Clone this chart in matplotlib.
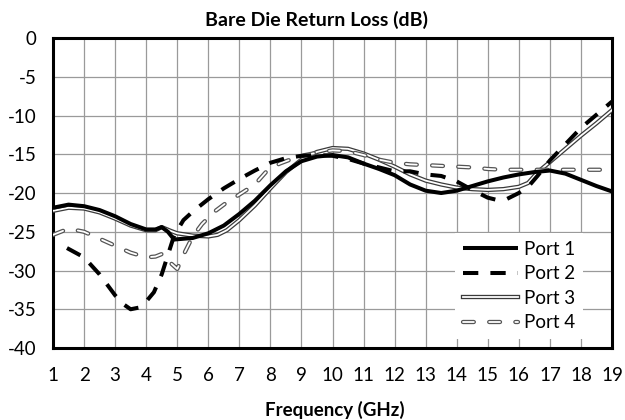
import matplotlib
matplotlib.use('Agg')
import matplotlib.pyplot as plt
import matplotlib.patheffects as pe

plt.rcParams['font.family'] = ['Lato', 'DejaVu Sans']
plt.rcParams['axes.unicode_minus'] = False

# values, (GHz, dB)
p1_f = [1.0, 1.5, 2.0, 2.5, 3.0, 3.5, 4.0, 4.3, 4.5, 4.7, 4.9, 5.5, 6.0, 6.5, 7.0, 7.5,
        8.0, 8.5, 9.0, 9.5, 10.0, 10.5, 11.0, 11.5, 12.0, 12.5, 13.0, 13.5, 14.0, 14.5,
        15.0, 15.5, 16.0, 16.5, 17.0, 17.5, 18.0, 18.5, 19.0]
p1_db = [-21.9, -21.5, -21.7, -22.2, -23.0, -24.0, -24.7, -24.7, -24.4, -25.0, -26.0,
         -25.8, -25.2, -24.2, -22.7, -21.0, -19.0, -17.2, -15.9, -15.3, -15.1, -15.4,
         -16.2, -16.9, -17.7, -18.9, -19.7, -20.0, -19.7, -19.1, -18.5, -18.0, -17.6,
         -17.3, -17.1, -17.5, -18.3, -19.1, -19.8]

p2_f = [1.45, 2.0, 2.5, 3.0, 3.25, 3.5, 3.75, 4.0, 4.25, 4.5, 4.7, 4.9, 5.2, 5.5, 6.0,
        6.5, 7.0, 7.5, 8.0, 8.5, 9.0, 9.5, 10.0, 10.5, 11.0, 11.5, 12.0, 12.5, 13.0,
        13.5, 14.0, 14.5, 15.0, 15.3, 15.6, 16.0, 16.3, 16.6, 17.0, 17.5, 18.0, 18.5, 19.0]
p2_db = [-27.1, -28.3, -30.5, -33.2, -34.3, -35.0, -34.8, -34.0, -32.8, -30.5, -28.0,
         -25.5, -23.5, -22.4, -20.8, -19.4, -18.2, -17.1, -16.1, -15.5, -15.2, -15.1,
         -15.2, -15.6, -16.2, -16.7, -17.2, -17.2, -17.6, -17.8, -18.5, -19.6, -20.6,
         -20.9, -20.8, -20.0, -19.2, -17.8, -15.8, -13.7, -11.6, -9.9, -8.2]

p3_f = [1.0, 1.5, 2.0, 2.5, 3.0, 3.5, 4.0, 4.3, 4.5, 4.8, 5.0, 5.5, 6.0, 6.3, 6.6, 7.0,
        7.5, 8.0, 8.5, 9.0, 9.5, 10.0, 10.5, 11.0, 11.5, 12.0, 12.5, 13.0, 13.5, 14.0,
        14.5, 15.0, 15.5, 16.0, 16.3, 16.5, 16.7, 17.0, 17.5, 18.0, 18.5, 19.0]
p3_db = [-22.3, -21.9, -22.0, -22.5, -23.3, -24.2, -24.8, -24.8, -24.4, -24.9, -25.2,
         -25.5, -25.6, -25.4, -24.8, -23.5, -21.6, -19.4, -17.3, -15.7, -14.7, -14.2,
         -14.3, -14.9, -15.7, -16.6, -17.6, -18.4, -18.9, -19.3, -19.5, -19.6, -19.5,
         -19.2, -18.7, -17.8, -17.0, -16.0, -14.3, -12.6, -11.0, -9.3]

p4_f = [1.0, 1.5, 2.0, 2.5, 3.0, 3.5, 4.0, 4.3, 4.55, 4.75, 5.0, 5.25, 5.5, 5.8, 6.2,
        6.6, 7.0, 7.5, 7.9, 8.3, 8.7, 9.0, 9.5, 10.0, 10.5, 11.0, 11.5, 12.0, 12.5,
        13.0, 13.5, 14.0, 14.5, 15.0, 15.5, 16.0, 17.0, 18.0, 19.0]
p4_db = [-25.4, -24.6, -25.0, -25.9, -26.8, -27.7, -28.3, -28.2, -27.8, -28.9, -29.8,
         -27.6, -25.6, -24.0, -22.4, -21.2, -20.2, -18.9, -17.1, -16.2, -15.6, -15.2,
         -14.8, -14.5, -14.6, -15.1, -15.7, -16.1, -16.3, -16.4, -16.5, -16.6, -16.7,
         -16.9, -17.0, -17.0, -17.0, -17.0, -17.0]

x_ticks = list(range(1, 20))
y_ticks = list(range(-40, 1, 5))

fig = plt.figure(figsize=(6.25, 4.2), dpi=100)
ax = fig.add_axes([0.0848, 0.1714, 0.8944, 0.7381])

ax.plot(p1_f, p1_db, color='black', lw=2.9, solid_capstyle='butt', label='Port 1', zorder=4)
ax.plot(p2_f, p2_db, color='black', lw=2.9, dashes=(3.8, 3.0), dash_capstyle='butt',
        label='Port 2', zorder=5)
ax.plot(p3_f, p3_db, color='white', lw=1.3, label='Port 3', zorder=3,
        path_effects=[pe.Stroke(linewidth=3.1, foreground='#3a3a3a'), pe.Normal()])
ax.plot(p4_f, p4_db, color='white', lw=1.3, dashes=(6.0, 8.5), dash_capstyle='round',
        label='Port 4', zorder=3,
        path_effects=[pe.Stroke(linewidth=3.1, foreground='#555555'), pe.Normal()])

ax.set_xlim(1, 19)
ax.set_ylim(-40, 0)
ax.set_xticks(x_ticks)
ax.set_yticks(y_ticks)
ax.grid(True, color='#9a9a9a', lw=0.9)
ax.set_axisbelow(True)
ax.tick_params(length=0, labelsize=13.5)
ax.tick_params(axis='x', pad=14)
ax.tick_params(axis='y', pad=12)
for s in ax.spines.values():
    s.set_linewidth(2.2)
    s.set_color('black')

fig.text(0.506, 0.952, 'Bare Die Return Loss (dB)', ha='center', va='center',
         fontsize=14, fontweight='bold')
fig.text(0.535, 0.024, 'Frequency (GHz)', ha='center', va='center',
         fontsize=13.5, fontweight='bold')

leg = ax.legend(loc='lower right', bbox_to_anchor=(0.964, 0.0), fontsize=13.5,
                handlelength=2.95, handletextpad=0.3, labelspacing=0.4,
                borderpad=0.4, fancybox=False, framealpha=1.0)
leg.get_frame().set_edgecolor('none')
leg.get_frame().set_facecolor('white')
leg.set_zorder(6)

fig.savefig('out.png', dpi=100)
